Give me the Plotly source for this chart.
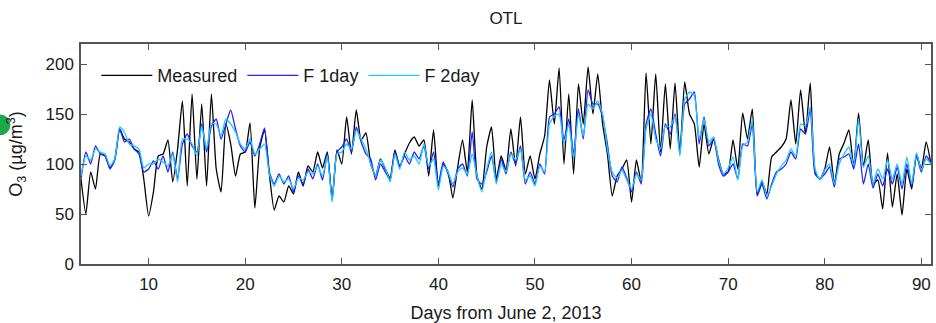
import numpy as np
import plotly.graph_objects as go

# days from June 2, 2013 (half-day samples)
days = np.arange(3.0, 91.01, 0.5)

measured = [85, 50, 92, 75, 110, 108, 96, 105, 135, 125, 122, 115, 112, 85, 48, 72,
            108, 110, 124, 82, 115, 163, 78, 170, 85, 160, 78, 170, 95, 72, 140, 120,
            88, 110, 112, 141, 56, 116, 134, 90, 54, 68, 62, 78, 70, 92, 78, 98,
            92, 112, 96, 112, 64, 114, 100, 147, 110, 154, 124, 131, 100, 88, 105, 95,
            86, 114, 97, 110, 121, 127, 118, 124, 88, 134, 78, 100, 92, 66, 97, 124,
            92, 164, 88, 75, 117, 137, 85, 108, 94, 135, 98, 147, 90, 108, 85, 110,
            128, 184, 140, 196, 100, 170, 90, 180, 140, 197, 150, 190, 140, 110, 68, 88,
            95, 104, 62, 104, 82, 191, 120, 190, 112, 180, 115, 181, 110, 182, 150, 140,
            97, 140, 110, 125, 105, 90, 92, 124, 95, 151, 125, 155, 70, 82, 70, 107,
            112, 117, 125, 164, 120, 174, 130, 181, 92, 85, 95, 117, 80, 110, 121, 134,
            97, 151, 97, 124, 80, 84, 55, 111, 57, 90, 49, 95, 75, 110, 95, 122, 100]

f1day = [85, 112, 100, 118, 110, 108, 95, 104, 135, 122, 125, 115, 110, 92, 95, 103,
         95, 108, 92, 112, 85, 120, 130, 118, 112, 140, 112, 138, 145, 125, 140, 154,
         135, 118, 112, 122, 108, 120, 136, 92, 80, 90, 80, 88, 72, 88, 80, 95,
         85, 100, 84, 110, 65, 112, 117, 125, 112, 137, 122, 110, 105, 84, 100, 92,
         84, 112, 98, 108, 100, 112, 105, 118, 95, 112, 80, 102, 90, 77, 95, 100,
         88, 132, 85, 80, 92, 108, 82, 105, 90, 112, 100, 118, 80, 92, 80, 100,
         90, 147, 150, 157, 124, 145, 110, 155, 125, 174, 160, 160, 147, 120, 88, 82,
         97, 86, 72, 92, 80, 140, 155, 130, 108, 140, 130, 150, 112, 160, 165, 172,
         120, 147, 118, 125, 100, 88, 92, 100, 85, 120, 118, 140, 68, 80, 65, 80,
         92, 95, 100, 112, 105, 135, 130, 155, 90, 85, 90, 97, 77, 105, 107, 110,
         95, 120, 80, 100, 76, 90, 78, 95, 80, 97, 75, 100, 78, 108, 92, 108, 101]

f2day = [88, 108, 104, 115, 112, 110, 98, 105, 137, 132, 120, 118, 115, 96, 100, 100,
         105, 102, 98, 110, 82, 125, 125, 120, 108, 138, 115, 140, 140, 128, 145, 140,
         132, 120, 115, 125, 110, 115, 120, 90, 78, 88, 82, 85, 75, 86, 84, 92,
         90, 98, 88, 108, 62, 110, 112, 120, 115, 134, 125, 115, 100, 88, 104, 96,
         82, 110, 95, 112, 104, 108, 100, 120, 98, 105, 74, 98, 92, 80, 92, 96,
         90, 110, 88, 72, 95, 112, 80, 100, 92, 110, 104, 115, 84, 88, 78, 98,
         92, 140, 148, 150, 120, 140, 105, 150, 128, 160, 155, 163, 150, 115, 92, 86,
         94, 84, 75, 90, 84, 135, 150, 125, 115, 138, 137, 148, 108, 165, 172, 168,
         125, 145, 122, 127, 104, 90, 96, 107, 84, 118, 122, 144, 72, 84, 68, 78,
         90, 98, 104, 115, 108, 140, 138, 157, 95, 84, 94, 100, 80, 100, 110, 117,
         98, 145, 97, 108, 80, 95, 85, 104, 85, 100, 80, 107, 80, 111, 94, 105, 100]

names = ["Measured", "F 1day", "F 2day"]
colors = ["#000000", "#2222ff", "#1ec8ff"]

x_ticks = [10, 20, 30, 40, 50, 60, 70, 80, 90]
y_ticks = [0, 50, 100, 150, 200]

fig = go.Figure()
for name, vals, col in zip(names, [measured, f1day, f2day], colors):
    fig.add_trace(go.Scatter(x=days, y=vals, mode="lines", name=name,
                             line=dict(color=col, width=1.3, shape="spline", smoothing=0.5)))

font_family = "Liberation Sans, Arial, sans-serif"
txt = "#1a1a1a"
axis_common = dict(showline=True, linecolor="#555555", linewidth=1.5, mirror="ticks",
                   ticks="inside", ticklen=6, tickcolor="#555555", tickwidth=1.2,
                   showgrid=False, zeroline=False, automargin=False,
                   tickfont=dict(size=17, color=txt, family=font_family))

fig.update_layout(
    width=936, height=323,
    margin=dict(l=81, r=5, t=44, b=59),
    paper_bgcolor="white", plot_bgcolor="white",
    font=dict(family=font_family, color=txt),
    title=dict(text="OTL", x=0.5405, xanchor="center", y=0.945, yanchor="middle",
               font=dict(size=17, color=txt, family=font_family)),
    showlegend=True,
    legend=dict(orientation="h", x=0.018, y=0.94, xanchor="left", yanchor="top",
                bgcolor="rgba(0,0,0,0)", font=dict(size=18, color=txt),
                itemwidth=51, tracegroupgap=0),
)
fig.update_xaxes(range=[3, 91], tickvals=x_ticks, ticklabelstandoff=4, **axis_common,
                 title=dict(text="Days from June 2, 2013", standoff=14,
                            font=dict(size=18, color=txt, family=font_family)))
fig.update_yaxes(range=[0, 220], tickvals=y_ticks, ticklabelstandoff=2, **axis_common,
                 title=dict(text="O<sub>3</sub> (µg/m<sup>3</sup>)", standoff=18,
                            font=dict(size=18, color=txt, family=font_family)))

# decorative green mark at the left edge of the reference figure
fig.add_shape(type="circle", xref="paper", yref="paper",
              x0=-0.108, x1=-0.083, y0=0.585, y1=0.68,
              fillcolor="#1aa84a", line=dict(width=0), layer="above")

fig.write_html("out.html")
